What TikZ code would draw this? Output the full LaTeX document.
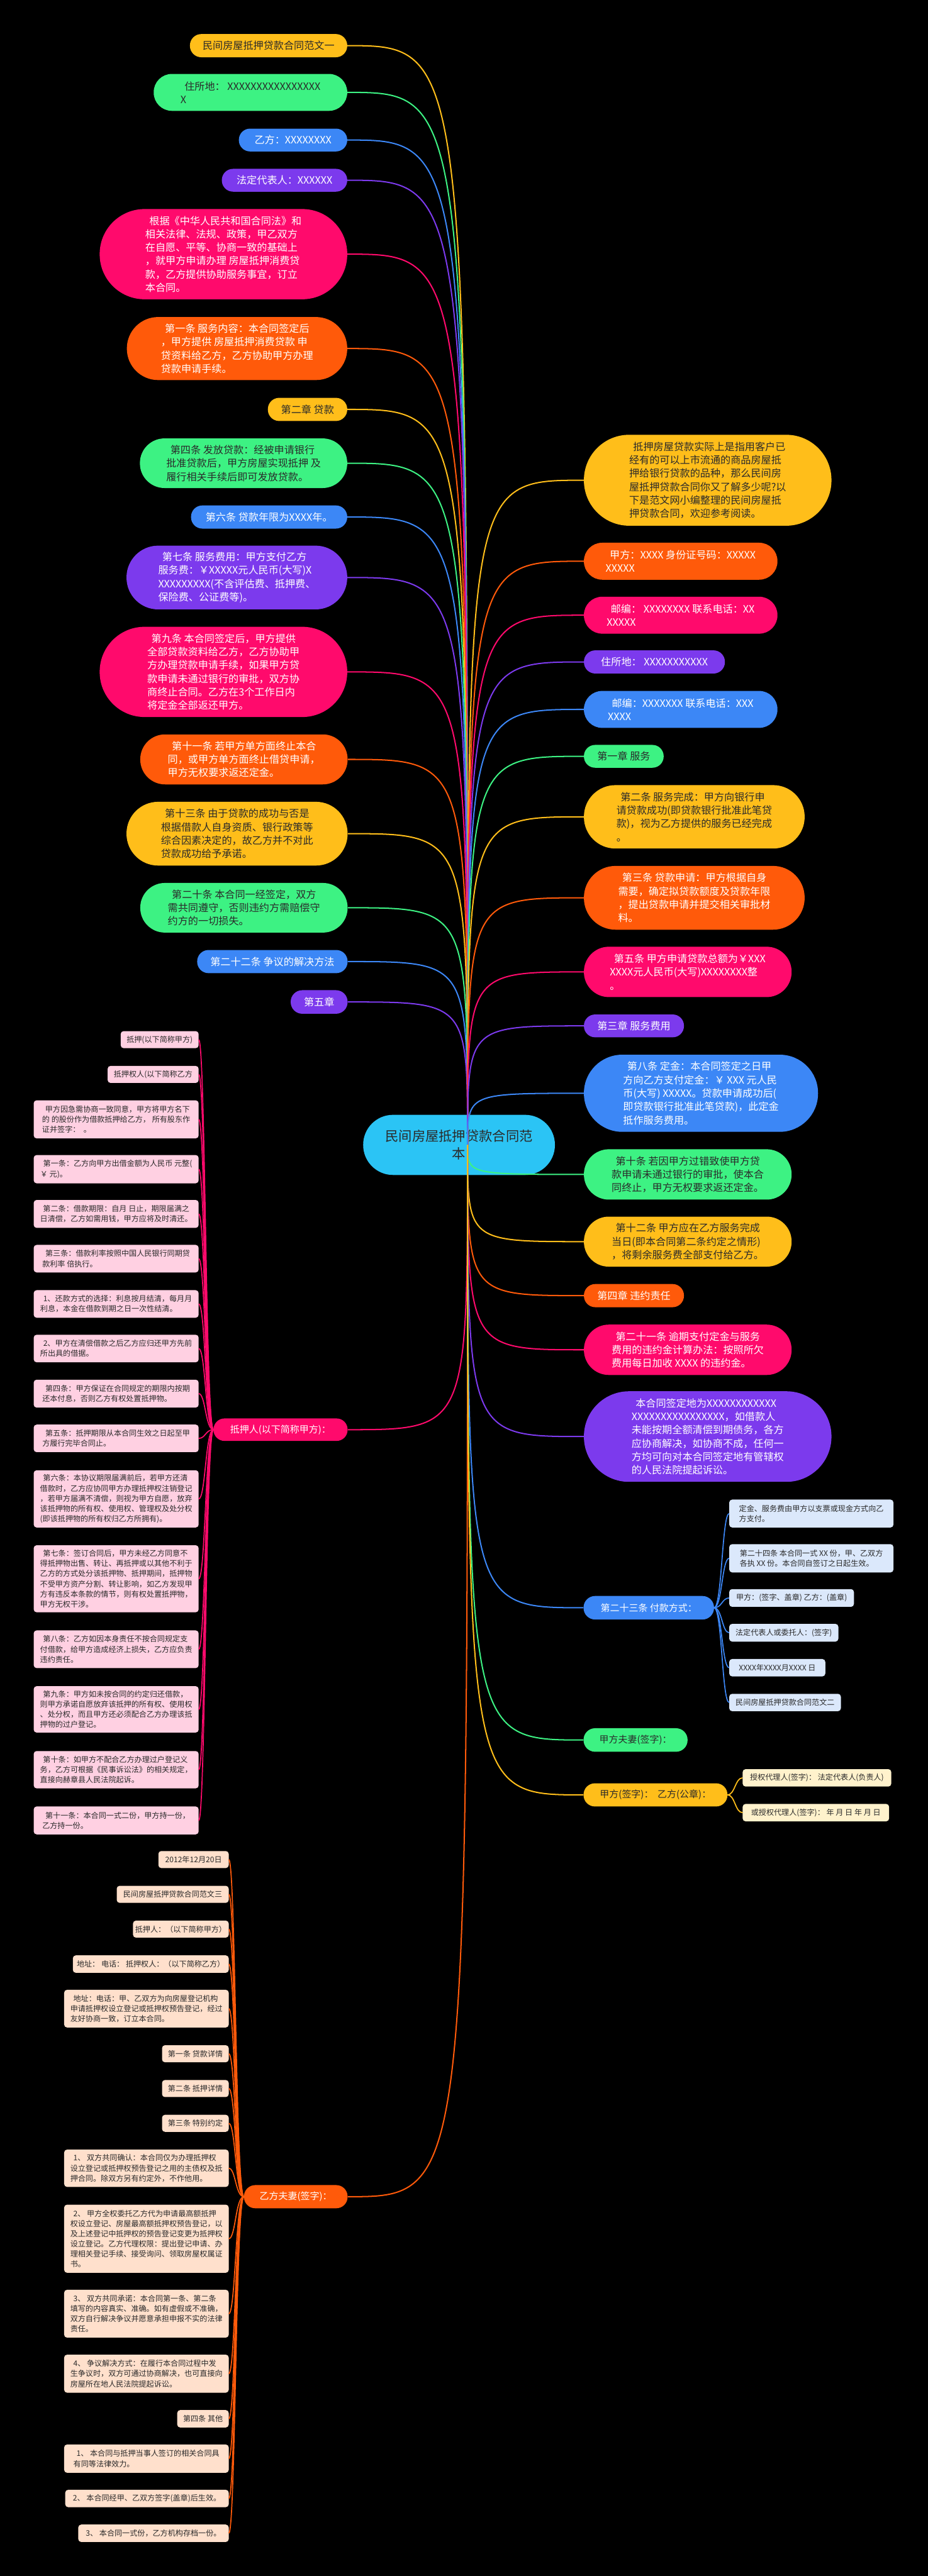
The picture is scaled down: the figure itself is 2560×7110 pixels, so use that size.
\documentclass[tikz,border=0pt]{standalone}
\usepackage{fontspec}
\setmainfont{Noto Sans CJK SC}
\definecolor{cY}{HTML}{FFBE1A}
\definecolor{cG}{HTML}{3DF283}
\definecolor{cB}{HTML}{3C87F6}
\definecolor{cP}{HTML}{7C3AED}
\definecolor{cK}{HTML}{FF0A6C}
\definecolor{cO}{HTML}{FF5A0A}
\definecolor{cC}{HTML}{2BC4F5}
\definecolor{lK}{HTML}{FFD0E2}
\definecolor{lO}{HTML}{FFE0CC}
\definecolor{lB}{HTML}{DBE8FB}
\definecolor{lY}{HTML}{FFF2CC}
\definecolor{dark}{HTML}{2A2A2A}
\newcommand\myi{\hspace*{0.4em}}
\newcommand\mkpill[7]{%
 \pgfmathsetmacro\pbw{#5-#3}\pgfmathsetmacro\pbh{#6-#4}%
 \pgfmathsetmacro\pbx{(#3+#5)/2}\pgfmathsetmacro\pby{-(#4+#6)/2}%
 \pgfmathsetmacro\pbr{\pbh/2-0.6}%
 \node[#2, minimum width=\pbw pt, minimum height=\pbh pt, rounded corners=\pbr pt] (#1) at (\pbx pt,\pby pt) {#7};}
\newcommand\mkbox[7]{%
 \pgfmathsetmacro\pbw{#5-#3}\pgfmathsetmacro\pbh{#6-#4}%
 \pgfmathsetmacro\pbx{(#3+#5)/2}\pgfmathsetmacro\pby{-(#4+#6)/2}%
 \node[#2, minimum width=\pbw pt, minimum height=\pbh pt, rounded corners=8pt] (#1) at (\pbx pt,\pby pt) {#7};}
\tikzset{
 base/.style={inner sep=0pt, align=left},
 big/.style={base, font=\fontsize{28}{37}\selectfont},
 mid/.style={base, font=\fontsize{26}{34}\selectfont},
 sml/.style={base, font=\fontsize{21}{28}\selectfont},
 fY/.style={fill=cY, text=dark}, fG/.style={fill=cG, text=dark},
 fB/.style={fill=cB, text=white}, fP/.style={fill=cP, text=white},
 fK/.style={fill=cK, text=white}, fO/.style={fill=cO, text=white},
 bK/.style={sml, fill=lK, text=dark}, bO/.style={sml, fill=lO, text=dark},
 bB/.style={sml, fill=lB, text=dark}, bY/.style={sml, fill=lY, text=dark},
 link/.style={line width=3.5pt},
 sub/.style={line width=3pt},
}
\begin{document}
\begin{tikzpicture}
\fill[black] (0,0) rectangle (2560pt,-7110pt);
\useasboundingbox (0,0) rectangle (2560pt,-7110pt);
% centre
\mkpill{C}{base, fill=cC, text=dark, align=center, font=\fontsize{37}{49}\selectfont}{1002}{3077}{1531}{3243}{民间房屋抵押贷款合同范\\本}
\coordinate (ctr) at (1290pt,-3160pt);
% left
\mkpill{L1}{big,fY}{524}{94}{958}{158}{民间房屋抵押贷款合同范文一}
\mkpill{L2}{big,fG}{424}{204}{958}{306}{\myi 住所地：\ XXXXXXXXXXXXXXXX\\X}
\mkpill{L3}{big,fB}{659}{355}{958}{418}{乙方：XXXXXXXX}
\mkpill{L4}{big,fP}{612}{466}{958}{529}{法定代表人：XXXXXX}
\mkpill{L5}{big,fK}{275}{577}{958}{826}{\myi 根据《中华人民共和国合同法》和\\相关法律、法规、政策，甲乙双方\\在自愿、平等、协商一致的基础上\\，就甲方申请办理 房屋抵押消费贷\\款，乙方提供协助服务事宜，订立\\本合同。}
\mkpill{L6}{big,fO}{350}{875}{958}{1049}{\myi 第一条 服务内容：本合同签定后\\，甲方提供 房屋抵押消费贷款 申\\贷资料给乙方，乙方协助甲方办理\\贷款申请手续。}
\mkpill{L7}{big,fY}{739}{1098}{958}{1162}{第二章 贷款}
\mkpill{L8}{big,fG}{386}{1210}{958}{1347}{\myi 第四条 发放贷款：经被申请银行\\批准贷款后，甲方房屋实现抵押 及\\履行相关手续后即可发放贷款。}
\mkpill{L9}{big,fB}{527}{1395}{958}{1459}{第六条 贷款年限为XXXX年。}
\mkpill{L10}{big,fP}{349}{1506}{958}{1682}{\myi 第七条 服务费用：甲方支付乙方\\服务费：￥XXXXX元人民币(大写)X\\XXXXXXXXX(不含评估费、抵押费、\\保险费、公证费等)。}
\mkpill{L11}{big,fK}{275}{1730}{958}{1979}{\myi 第九条 本合同签定后，甲方提供\\全部贷款资料给乙方，乙方协助甲\\方办理贷款申请手续，如果甲方贷\\款申请未通过银行的审批，双方协\\商终止合同。乙方在3个工作日内\\将定金全部返还甲方。}
\mkpill{L12}{big,fO}{387}{2027}{959}{2165}{\myi 第十一条 若甲方单方面终止本合\\同，或甲方单方面终止借贷申请，\\甲方无权要求返还定金。}
\mkpill{L13}{big,fY}{349}{2213}{959}{2389}{\myi 第十三条 由于贷款的成功与否是\\根据借款人自身资质、银行政策等\\综合因素决定的，故乙方并不对此\\贷款成功给予承诺。}
\mkpill{L14}{big,fG}{387}{2437}{959}{2574}{\myi 第二十条 本合同一经签定，双方\\需共同遵守，否则违约方需赔偿守\\约方的一切损失。}
\mkpill{L15}{big,fB}{544}{2622}{959}{2686}{第二十二条 争议的解决方法}
\mkpill{L16}{big,fP}{802}{2733}{959}{2798}{第五章}
\mkpill{P}{mid,fK}{589}{3915}{959}{3977}{抵押人(以下简称甲方)：}
\mkpill{Q}{mid,fO}{673}{6031}{959}{6095}{乙方夫妻(签字)：}
% right
\mkpill{R1}{big,fY}{1611}{1200}{2294}{1451}{\myi 抵押房屋贷款实际上是指用客户已\\经有的可以上市流通的商品房屋抵\\押给银行贷款的品种，那么民间房\\屋抵押贷款合同你又了解多少呢?以\\下是范文网小编整理的民间房屋抵\\押贷款合同，欢迎参考阅读。}
\mkpill{R2}{big,fO}{1611}{1498}{2145}{1600}{\myi 甲方：XXXX 身份证号码：XXXXX\\XXXXX}
\mkpill{R3}{big,fK}{1611}{1647}{2145}{1749}{\myi 邮编：\ XXXXXXXX 联系电话：XX\\XXXXX}
\mkpill{R4}{big,fP}{1611}{1795}{2000}{1859}{住所地：\ XXXXXXXXXXX}
\mkpill{R5}{big,fB}{1611}{1907}{2145}{2009}{\myi 邮编：XXXXXXX 联系电话：XXX\\XXXX}
\mkpill{R6}{big,fG}{1611}{2056}{1831}{2119}{第一章 服务}
\mkpill{R7}{big,fY}{1611}{2167}{2220}{2342}{\myi 第二条 服务完成：甲方向银行申\\请贷款成功(即贷款银行批准此笔贷\\款)，视为乙方提供的服务已经完成\\。}
\mkpill{R8}{big,fO}{1611}{2390}{2220}{2566}{\myi 第三条 贷款申请：甲方根据自身\\需要，确定拟贷款额度及贷款年限\\，提出贷款申请并提交相关审批材\\料。}
\mkpill{R9}{big,fK}{1611}{2613}{2184}{2752}{\myi 第五条 甲方申请贷款总额为￥XXX\\XXXX元人民币(大写)XXXXXXXX整\\。}
\mkpill{R10}{big,fP}{1611}{2800}{1887}{2863}{第三章 服务费用}
\mkpill{R11}{big,fB}{1611}{2911}{2257}{3124}{\myi 第八条 定金：本合同签定之日甲\\方向乙方支付定金：￥ XXX 元人民\\币(大写) XXXXX。贷款申请成功后(\\即贷款银行批准此笔贷款)，此定金\\抵作服务费用。}
\mkpill{R12}{big,fG}{1611}{3172}{2184}{3311}{\myi 第十条 若因甲方过错致使甲方贷\\款申请未通过银行的审批，使本合\\同终止，甲方无权要求返还定金。}
\mkpill{R13}{big,fY}{1611}{3358}{2184}{3496}{\myi 第十二条 甲方应在乙方服务完成\\当日(即本合同第二条约定之情形)\\，将剩余服务费全部支付给乙方。}
\mkpill{R14}{big,fO}{1611}{3544}{1887}{3608}{第四章 违约责任}
\mkpill{R15}{big,fK}{1611}{3656}{2184}{3795}{\myi 第二十一条 逾期支付定金与服务\\费用的违约金计算办法：按照所欠\\费用每日加收 XXXX 的违约金。}
\mkpill{R16}{big,fP}{1611}{3840}{2294}{4090}{\myi 本合同签定地为XXXXXXXXXXXX\\XXXXXXXXXXXXXXXX，如借款人\\未能按期全额清偿到期债务，各方\\应协商解决，如协商不成，任何一\\方均可向对本合同签定地有管辖权\\的人民法院提起诉讼。}
\mkpill{R17}{mid,fB}{1610}{4405}{1970}{4470}{第二十三条 付款方式：}
\mkpill{R18}{mid,fG}{1610}{4770}{1897}{4835}{甲方夫妻(签字)：}
\mkpill{R19}{mid,fY}{1610}{4922}{2007}{4986}{甲方(签字)：\ \ 乙方(公章)：}
% R17 children
\mkbox{C1}{bB}{2012}{4139}{2465}{4216}{定金、服务费由甲方以支票或现金方式向乙\\方支付。}
\mkbox{C2}{bB}{2012}{4262}{2465}{4340}{第二十四条 本合同一式 XX 份，甲、乙双方\\各执 XX 份。本合同自签订之日起生效。}
\mkbox{C3}{bB}{2012}{4386}{2356}{4435}{甲方：(签字、盖章) 乙方：(盖章)}
\mkbox{C4}{bB}{2012}{4482}{2313}{4531}{法定代表人或委托人：(签字)}
\mkbox{C5}{bB}{2012}{4579}{2277}{4627}{XXXX年XXXX月XXXX 日}
\mkbox{C6}{bB}{2012}{4675}{2320}{4723}{民间房屋抵押贷款合同范文二}
\mkbox{D1}{bY}{2049}{4883}{2459}{4931}{授权代理人(签字)：\ 法定代表人(负责人)}
\mkbox{D2}{bY}{2049}{4979}{2453}{5027}{或授权代理人(签字)：\ 年 月 日 年 月 日}
% P children
\mkbox{P0}{bK}{333}{2846}{548}{2893}{抵押(以下简称甲方)}
\mkbox{P1}{bK}{297}{2942}{548}{2989}{抵押权人(以下简称乙方}
\mkbox{P2}{bK}{93}{3037}{548}{3142}{\myi 甲方因急需协商一致同意，甲方将甲方名下\\的 的股份作为借款抵押给乙方， 所有股东作\\证并签字：\ \ 。}
\mkbox{P3}{bK}{93}{3188}{548}{3266}{\myi 第一条：乙方向甲方出借金额为人民币 元整(\\￥ 元)。}
\mkbox{P4}{bK}{93}{3312}{548}{3389}{\myi 第二条：借款期限：自月 日止，期限届满之\\日清偿，乙方如需用钱，甲方应将及时清还。}
\mkbox{P5}{bK}{93}{3436}{548}{3512}{\myi 第三条：借款利率按照中国人民银行同期贷\\款利率 倍执行。}
\mkbox{P6}{bK}{93}{3561}{548}{3637}{\myi 1、还款方式的选择：利息按月结清，每月月\\利息，本金在借款到期之日一次性结清。}
\mkbox{P7}{bK}{93}{3684}{548}{3760}{\myi 2、甲方在清偿借款之后乙方应归还甲方先前\\所出具的借据。}
\mkbox{P8}{bK}{93}{3808}{548}{3885}{\myi 第四条：甲方保证在合同规定的期限内按期\\还本付息，否则乙方有权处置抵押物。}
\mkbox{P9}{bK}{93}{3932}{548}{4008}{\myi 第五条：抵押期限从本合同生效之日起至甲\\方履行完毕合同止。}
\mkbox{P10}{bK}{93}{4058}{548}{4216}{\myi 第六条：本协议期限届满前后，若甲方还清\\借款时，乙方应协同甲方办理抵押权注销登记\\，若甲方届满不清偿，则视为甲方自愿，放弃\\该抵押物的所有权、使用权、管理权及处分权\\(即该抵押物的所有权归乙方所拥有)。}
\mkbox{P11}{bK}{93}{4265}{548}{4450}{\myi 第七条：签订合同后，甲方未经乙方同意不\\得抵押物出售、转让、再抵押或以其他不利于\\乙方的方式处分该抵押物、抵押期间，抵押物\\不受甲方资产分割、转让影响，如乙方发现甲\\方有违反本条款的情节，则有权处置抵押物，\\甲方无权干涉。}
\mkbox{P12}{bK}{93}{4500}{548}{4604}{\myi 第八条：乙方如因本身责任不按合同规定支\\付借款，给甲方造成经济上损失，乙方应负责\\违约责任。}
\mkbox{P13}{bK}{93}{4654}{548}{4782}{\myi 第九条：甲方如未按合同的约定归还借款，\\则甲方承诺自愿放弃该抵押的所有权、使用权\\、处分权，而且甲方还必须配合乙方办理该抵\\押物的过户登记。}
\mkbox{P14}{bK}{93}{4833}{548}{4936}{\myi 第十条：如甲方不配合乙方办理过户登记义\\务，乙方可根据《民事诉讼法》的相关规定，\\直接向赫章县人民法院起诉。}
\mkbox{P15}{bK}{93}{4986}{548}{5063}{\myi 第十一条：本合同一式二份，甲方持一份，\\乙方持一份。}
% Q children
\mkbox{Q0}{bO}{437}{5109}{631}{5156}{2012年12月20日}
\mkbox{Q1}{bO}{322}{5205}{631}{5252}{民间房屋抵押贷款合同范文三}
\mkbox{Q2}{bO}{367}{5301}{631}{5348}{抵押人：（以下简称甲方）}
\mkbox{Q3}{bO}{201}{5397}{631}{5445}{地址：\ 电话：\ 抵押权人：（以下简称乙方）}
\mkbox{Q4}{bO}{177}{5492}{631}{5596}{\myi 地址：电话：甲、乙双方为向房屋登记机构\\申请抵押权设立登记或抵押权预告登记，经过\\友好协商一致，订立本合同。}
\mkbox{Q5}{bO}{447}{5645}{631}{5692}{第一条 贷款详情}
\mkbox{Q6}{bO}{447}{5741}{631}{5788}{第二条 抵押详情}
\mkbox{Q7}{bO}{447}{5837}{631}{5884}{第三条 特别约定}
\mkbox{Q8}{bO}{177}{5933}{631}{6036}{\myi 1、 双方共同确认：本合同仅为办理抵押权\\设立登记或抵押权预告登记之用的主债权及抵\\押合同。除双方另有约定外，不作他用。}
\mkbox{Q9}{bO}{177}{6085}{631}{6273}{\myi 2、 甲方全权委托乙方代为申请最高额抵押\\权设立登记、房屋最高额抵押权预告登记，以\\及上述登记中抵押权的预告登记变更为抵押权\\设立登记。乙方代理权限：提出登记申请、办\\理相关登记手续、接受询问、领取房屋权属证\\书。}
\mkbox{Q10}{bO}{177}{6320}{631}{6452}{\myi 3、 双方共同承诺：本合同第一条、第二条\\填写的内容真实、准确。如有虚假或不准确，\\双方自行解决争议并愿意承担申报不实的法律\\责任。}
\mkbox{Q11}{bO}{177}{6499}{631}{6604}{\myi 4、 争议解决方式：在履行本合同过程中发\\生争议时，双方可通过协商解决，也可直接向\\房屋所在地人民法院提起诉讼。}
\mkbox{Q12}{bO}{489}{6652}{631}{6700}{第四条 其他}
\mkbox{Q13}{bO}{177}{6747}{631}{6825}{\myi 1、 本合同与抵押当事人签订的相关合同具\\有同等法律效力。}
\mkbox{Q14}{bO}{180}{6872}{631}{6920}{2、 本合同经甲、乙双方签字(盖章)后生效。}
\mkbox{Q15}{bO}{216}{6968}{631}{7016}{3、 本合同一式份，乙方机构存档一份。}
% trunks
\coordinate (tP) at (567pt,0);
\coordinate (tQ) at (650pt,0);
\coordinate (tR17) at (1992pt,0);
\coordinate (tR19) at (2028pt,0);
% connectors: left
\foreach \n/\c in {L1/cY,L2/cG,L3/cB,L4/cP,L5/cK,L6/cO,L7/cY,L8/cG,L9/cB,L10/cP,L11/cK,L12/cO,L13/cY,L14/cG,L15/cB,L16/cP,P/cK,Q/cO}
 \draw[link,\c] (\n.east) .. controls (\n.east -| ctr) .. (ctr);
% connectors: right
\foreach \n/\c in {R1/cY,R2/cO,R3/cK,R4/cP,R5/cB,R6/cG,R7/cY,R8/cO,R9/cK,R10/cP,R11/cB,R12/cG,R13/cY,R14/cO,R15/cK,R16/cP,R17/cB,R18/cG,R19/cY}
 \draw[link,\c] (ctr) .. controls (ctr |- \n.west) .. (\n.west);
% sub-branches
\foreach \n in {C1,C2,C3,C4,C5,C6}
 \draw[sub,cB] (R17.east) .. controls (R17.east -| tR17) and (\n.west -| tR17) .. (\n.west);
\foreach \n in {D1,D2}
 \draw[sub,cY] (R19.east) .. controls (R19.east -| tR19) and (\n.west -| tR19) .. (\n.west);
\foreach \n in {P0,P1,P2,P3,P4,P5,P6,P7,P8,P9,P10,P11,P12,P13,P14,P15}
 \draw[sub,cK] (P.west) .. controls (P.west -| tP) and (\n.east -| tP) .. (\n.east);
\foreach \n in {Q0,Q1,Q2,Q3,Q4,Q5,Q6,Q7,Q8,Q9,Q10,Q11,Q12,Q13,Q14,Q15}
 \draw[sub,cO] (Q.west) .. controls (Q.west -| tQ) and (\n.east -| tQ) .. (\n.east);
\end{tikzpicture}
\end{document}
